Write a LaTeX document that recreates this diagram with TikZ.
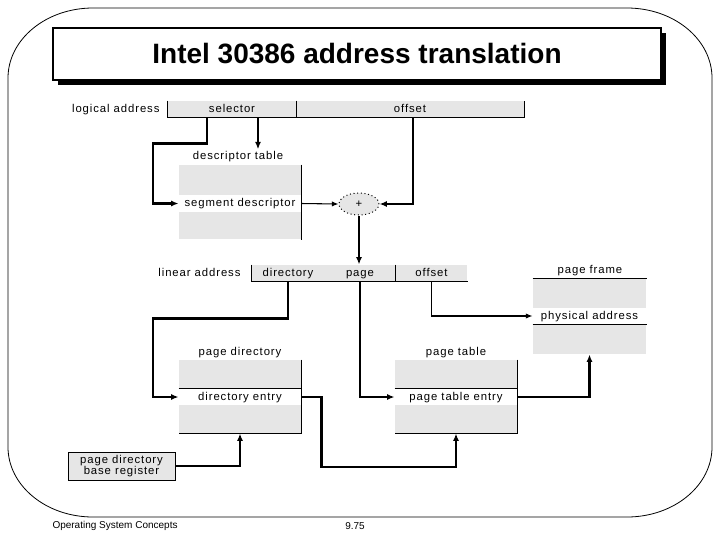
\documentclass[tikz,border=0pt]{standalone}
\usepackage{fontspec}
\setmainfont{Liberation Sans}
\usetikzlibrary{arrows.meta,shapes.geometric}
\definecolor{boxgray}{RGB}{230,230,230}
\newcommand{\lblfont}{\fontsize{8.5pt}{8pt}\selectfont\addfontfeature{LetterSpace=8}}
\tikzset{every picture/.style={line width=0.75pt}}

\begin{document}
\begin{tikzpicture}[x=0.75pt,y=0.75pt,yscale=-1,xscale=1,
  field/.style={rectangle, fill=boxgray, inner sep=0pt, minimum height=12pt, text height=6.2pt, text depth=1.6pt, font=\lblfont},
  band/.style={rectangle, fill=white, inner sep=0pt, minimum width=91.5pt, minimum height=12pt, text height=6.2pt, text depth=1.6pt, font=\lblfont},
  tbl/.style={rectangle, fill=boxgray, inner sep=0pt, minimum width=91.5pt, minimum height=54.75pt},
  lbl/.style={inner sep=0.75pt, text height=6.2pt, text depth=1.6pt, font=\lblfont},
  rim/.style={line width=0.6pt},
  thk/.style={line width=1.6pt, -{Latex[length=5.5pt,width=4.5pt]}},
  thn/.style={line width=0.8pt, -{Latex[length=5pt,width=4pt]}}]
\useasboundingbox (0,0) rectangle (720,540);

%Shape: Rounded page outline
\draw [rim] (93,8) -- (627,8) arc[start angle=-90,end angle=0,x radius=85,y radius=70] -- (712,447) arc[start angle=0,end angle=90,x radius=85,y radius=70] -- (93,517) arc[start angle=90,end angle=180,x radius=85,y radius=70] -- (8,78) arc[start angle=180,end angle=270,x radius=85,y radius=70] -- cycle ;

%Shape: Title box with shadow
\fill (58,33) rectangle (666,85) ;
\node [draw, fill=white, line width=1.2pt, minimum width=456pt, minimum height=39pt, inner sep=0pt, font=\fontsize{21pt}{24pt}\selectfont\bfseries] (title) at (357,54) {Intel 30386 address translation};

% Logical address
\node [lbl, anchor=east] (logaddr) at (161,109) {logical address};
\node [field, minimum width=96pt] (sel) at (232,109) {selector};
\node [field, minimum width=171pt] (off) at (410,109) {offset};
\draw [rim] (sel.north west) -- (sel.south west) -- (off.south east) -- (off.north east) ;
\draw [rim] (sel.north east) -- (sel.south east) ;

% Descriptor table
\node [lbl] (dtlbl) at (238,156) {descriptor table};
\node [tbl, minimum height=55.5pt] (dtbl) at (240,202) {};
\node [band, minimum height=12.75pt] (segdesc) at (240,203.5) {segment descriptor};
\draw [rim] (dtbl.north east) -- (dtbl.south east) ;

%Shape: Adder
\node [ellipse, draw, dotted, fill=boxgray, minimum width=30pt, minimum height=16.5pt, inner sep=0pt, font=\lblfont] (plus) at (359,204) {+};

% Linear address
\node [lbl, anchor=east] (linaddr) at (242,273) {linear address};
\node [field, minimum width=54pt] (ldir) at (288,273) {directory};
\node [field, minimum width=54pt] (lpage) at (360,273) {page};
\node [field, minimum width=53.25pt] (loff) at (431.5,273) {offset};
\draw [rim] (ldir.north west) -- (ldir.south west) -- (loff.south east) ;
\draw [rim] (loff.north west) -- (loff.south west) ;

% Page frame
\node [lbl] (pflbl) at (590,270) {page frame};
\node [tbl, minimum width=84.75pt, minimum height=56.25pt] (pfr) at (589.5,316.5) {};
\node [band, minimum width=84.75pt] (phys) at (589.5,316) {physical address};
\draw [rim] (pfr.north west) -- (pfr.north east) ;
\draw [rim] (phys.south west) -- (phys.south east) ;

% Page directory
\node [lbl] (pdlbl) at (240,352) {page directory};
\node [tbl] (pdir) at (240,396.5) {};
\node [band] (direntry) at (240,397) {directory entry};
\draw [rim] (direntry.north west) -- (direntry.north east) ;
\draw [rim] (pdir.north east) -- (pdir.south east) -- (pdir.south west) ;

% Page table
\node [lbl] (ptlbl) at (456,352) {page table};
\node [tbl] (ptbl) at (456,396.5) {};
\node [band] (ptentry) at (456,397) {page table entry};
\draw [rim] (ptentry.north west) -- (ptentry.north east) ;
\draw [rim] (ptbl.north east) -- (ptbl.south east) -- (ptbl.south west) ;

% Base register
\node [rim, draw, fill=boxgray, minimum width=80.25pt, minimum height=21pt, inner sep=0pt, align=center, font=\lblfont] (pdbr) at (121.5,466) {page directory\\base register};

% Connectors
\coordinate (selA) at ([xshift=-18.75pt]sel.south);
\coordinate (selB) at ([xshift=19.5pt]sel.south);
\coordinate (offB) at ([xshift=2.25pt]off.south);
\draw [thk] (selA) -- ++(0,26) -- ++(-54,0) |- (segdesc.west) ;
\draw [thk] (selB) -- (selB |- dtlbl.north) ;
\draw [thk] (offB) |- (plus.east) ;
\draw [thn] (segdesc.east) -- (plus.west) ;
\draw [thk] (plus.south) -- (plus.south |- lpage.north) ;
\draw [thk] (ldir.south) -- ++(0,37) -- ++(-135,0) |- (direntry.west) ;
\draw [thk] (lpage.south) |- (ptentry.west) ;
\draw [thn] (loff.south) |- (phys.west) ;
\draw [thk] (direntry.east) -- ++(20,0) -- ++(0,70) -| (ptbl.south) ;
\draw [thk] (ptentry.east) -| (pfr.south) ;
\draw [thk] (pdbr.east) -| (pdir.south) ;

% Text Node
\node [anchor=west, inner sep=0pt, font=\fontsize{7.5pt}{9pt}\selectfont] (course) at (52,526) {Operating System Concepts};
% Text Node
\node [inner sep=0pt, font=\fontsize{7.5pt}{9pt}\selectfont] (slideno) at (355,526) {9.75};

\end{tikzpicture}
\end{document}
